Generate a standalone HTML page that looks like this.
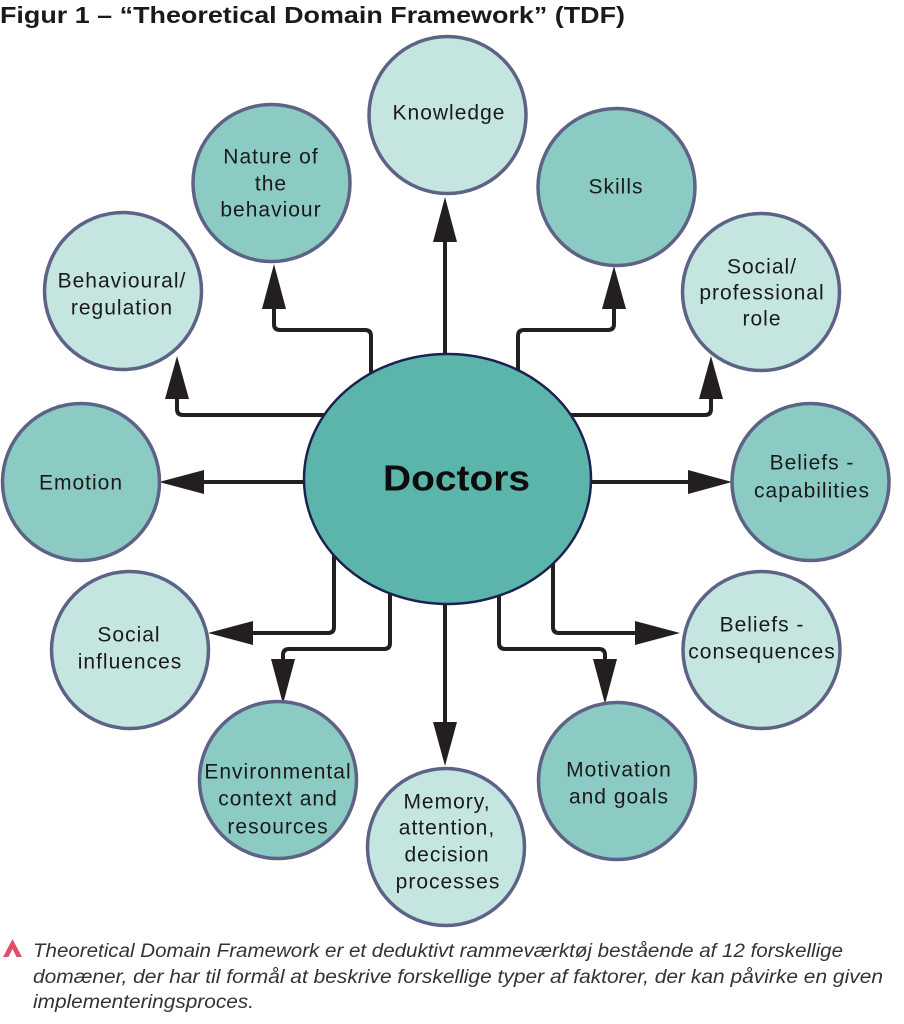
<!DOCTYPE html>
<html>
<head>
<meta charset="utf-8">
<style>
  html, body { margin: 0; padding: 0; background: #ffffff; }
  body { width: 904px; height: 1024px; overflow: hidden; }
  svg { display: block; }
  .lbl { font-family: "Liberation Sans", sans-serif; font-size: 21px; letter-spacing: 1px; fill: #1a1a1a; text-anchor: middle; dominant-baseline: central; }
</style>
</head>
<body>
<svg width="904" height="1024" viewBox="0 0 904 1024" xmlns="http://www.w3.org/2000/svg">
  <rect x="0" y="0" width="904" height="1024" fill="#ffffff"/>

  <!-- Title -->
  <text x="0" y="23" font-family="Liberation Sans, sans-serif" font-weight="bold" font-size="23" fill="#1a1a1a" textLength="625" lengthAdjust="spacingAndGlyphs">Figur 1 – “Theoretical Domain Framework” (TDF)</text>

  <!-- Connectors -->
  <g fill="none" stroke="#231f20" stroke-width="4" stroke-linejoin="round">
    <!-- Knowledge -->
    <path d="M445,400 V240"/>
    <!-- Nature -->
    <path d="M371,400 V336 Q371,330 365,330 H280 Q274,330 274,324 V306"/>
    <!-- Behavioural -->
    <path d="M340,415 H183 Q177,415 177,409 V396"/>
    <!-- Skills -->
    <path d="M518,400 V336 Q518,330 524,330 H608 Q614,330 614,324 V305"/>
    <!-- Social/professional -->
    <path d="M560,415 H705 Q711,415 711,409 V396"/>
    <!-- Emotion -->
    <path d="M330,482 H200"/>
    <!-- Beliefs capabilities -->
    <path d="M570,482 H692"/>
    <!-- Social influences -->
    <path d="M334,540 V627 Q334,633 328,633 H250"/>
    <!-- Environmental -->
    <path d="M390,580 V643 Q390,649 384,649 H289 Q283,649 283,655 V662"/>
    <!-- Memory -->
    <path d="M445,580 V726"/>
    <!-- Motivation -->
    <path d="M499,580 V643 Q499,649 505,649 H599 Q605,649 605,655 V662"/>
    <!-- Beliefs consequences -->
    <path d="M553,540 V627 Q553,633 559,633 H638"/>
  </g>

  <!-- Arrowheads -->
  <g fill="#231f20">
    <polygon points="445,197 433,242 457,242"/>
    <polygon points="274,264 262,309 286,309"/>
    <polygon points="177,356 165,399 189,399"/>
    <polygon points="614,266 602,309 626,309"/>
    <polygon points="711,356 699,399 723,399"/>
    <polygon points="159,482 204,470 204,494"/>
    <polygon points="732,482 688,470 688,494"/>
    <polygon points="208,633 253,621 253,645"/>
    <polygon points="283,704 271,659 295,659"/>
    <polygon points="445,766 433,722 457,722"/>
    <polygon points="605,704 593,659 617,659"/>
    <polygon points="680,633 635,621 635,645"/>
  </g>

  <!-- Circles -->
  <g stroke="#5d6386" stroke-width="3.5">
    <circle cx="447.5" cy="115" r="78.5" fill="#c5e5e0"/>
    <circle cx="271.5" cy="183" r="78.5" fill="#8ccbc3"/>
    <circle cx="616.5" cy="187" r="78.5" fill="#8ccbc3"/>
    <circle cx="123" cy="291" r="78.5" fill="#c5e5e0"/>
    <circle cx="761" cy="292" r="78.5" fill="#c5e5e0"/>
    <circle cx="81" cy="482" r="78.5" fill="#8ccbc3"/>
    <circle cx="810.5" cy="482" r="78.5" fill="#8ccbc3"/>
    <circle cx="130" cy="650" r="78.5" fill="#c5e5e0"/>
    <circle cx="761.5" cy="650" r="78.5" fill="#c5e5e0"/>
    <circle cx="278" cy="780" r="78.5" fill="#8ccbc3"/>
    <circle cx="446" cy="847" r="78.5" fill="#c5e5e0"/>
    <circle cx="617" cy="781" r="78.5" fill="#8ccbc3"/>
  </g>

  <!-- Central ellipse -->
  <ellipse cx="447.5" cy="479" rx="143.5" ry="125" fill="#5bb5ab" stroke="#1c2152" stroke-width="2.5"/>
  <text x="456.5" y="478" font-family="Liberation Sans, sans-serif" font-weight="bold" font-size="36" fill="#0d0d0d" text-anchor="middle" dominant-baseline="central" textLength="147" lengthAdjust="spacingAndGlyphs">Doctors</text>

  <!-- Labels -->
  <text class="lbl" x="449" y="113">Knowledge</text>

  <text class="lbl" x="271" y="157">Nature of</text>
  <text class="lbl" x="271" y="184">the</text>
  <text class="lbl" x="271" y="210">behaviour</text>

  <text class="lbl" x="616" y="187">Skills</text>

  <text class="lbl" x="122" y="281">Behavioural/</text>
  <text class="lbl" x="122" y="308">regulation</text>

  <text class="lbl" x="762" y="267">Social/</text>
  <text class="lbl" x="762" y="293">professional</text>
  <text class="lbl" x="762" y="319">role</text>

  <text class="lbl" x="81" y="483">Emotion</text>

  <text class="lbl" x="812" y="463">Beliefs -</text>
  <text class="lbl" x="812" y="491">capabilities</text>

  <text class="lbl" x="129" y="635">Social</text>
  <text class="lbl" x="130" y="662">influences</text>

  <text class="lbl" x="762" y="625">Beliefs -</text>
  <text class="lbl" x="762" y="652">consequences</text>

  <text class="lbl" x="278" y="772">Environmental</text>
  <text class="lbl" x="278" y="799">context and</text>
  <text class="lbl" x="278" y="827">resources</text>

  <text class="lbl" x="447" y="802">Memory,</text>
  <text class="lbl" x="447" y="828">attention,</text>
  <text class="lbl" x="447" y="855">decision</text>
  <text class="lbl" x="448" y="882">processes</text>

  <text class="lbl" x="619" y="770">Motivation</text>
  <text class="lbl" x="619" y="797">and goals</text>

  <!-- Caption -->
  <polygon points="3,957 12.5,939 22,957 16.5,957 12.5,949 8.5,957" fill="#e0506a"/>
  <g font-family="Liberation Sans, sans-serif" font-style="italic" font-size="19" fill="#333333">
    <text x="33" y="957" textLength="810" lengthAdjust="spacingAndGlyphs">Theoretical Domain Framework er et deduktivt rammeværktøj bestående af 12 forskellige</text>
    <text x="33" y="983" textLength="850" lengthAdjust="spacingAndGlyphs">domæner, der har til formål at beskrive forskellige typer af faktorer, der kan påvirke en given</text>
    <text x="33" y="1008" textLength="221" lengthAdjust="spacingAndGlyphs">implementeringsproces.</text>
  </g>
</svg>
</body>
</html>
